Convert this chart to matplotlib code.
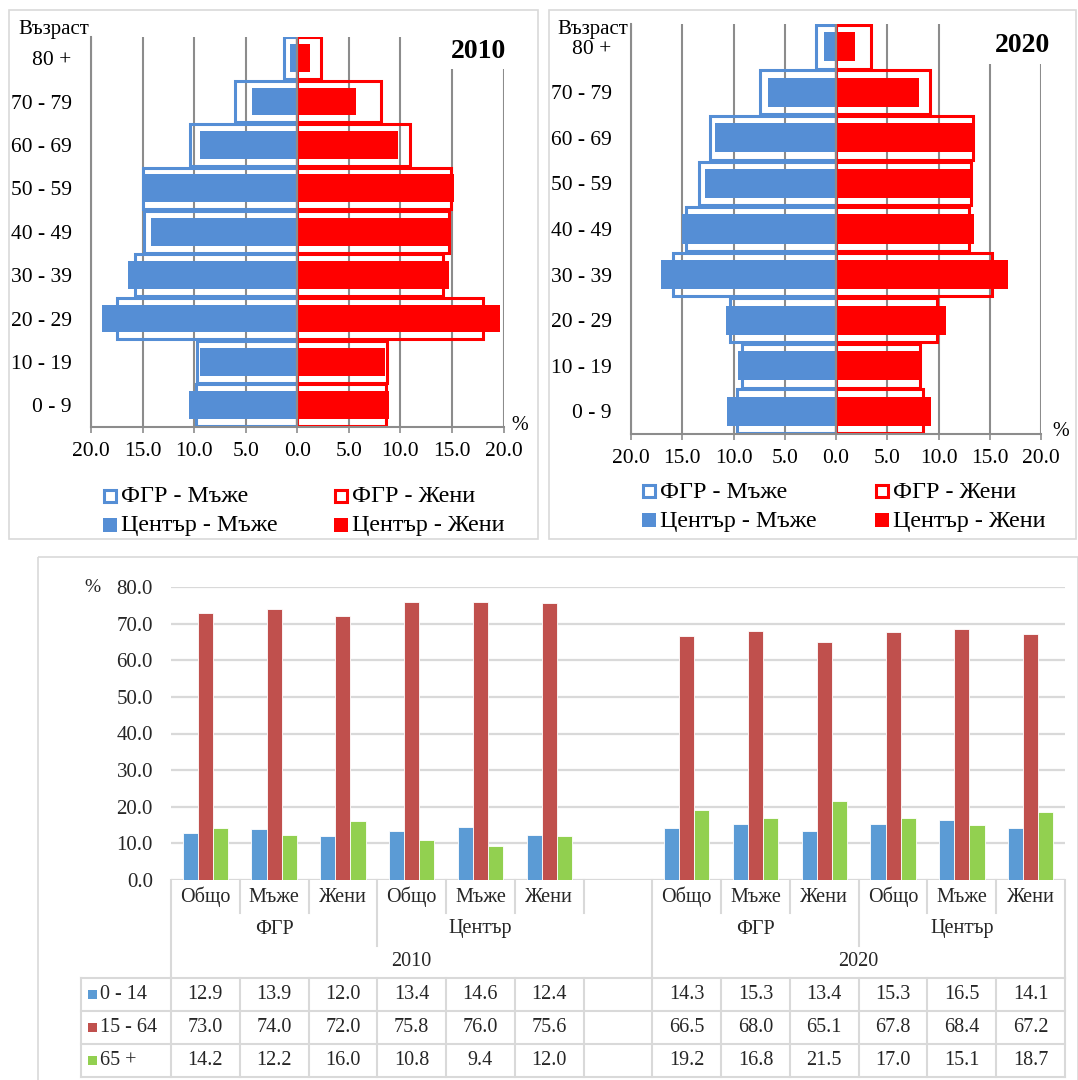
import numpy as np
import matplotlib
matplotlib.use('Agg')
import matplotlib.pyplot as plt
from matplotlib.patches import Rectangle

plt.rcParams['font.family'] = ['Liberation Serif', 'DejaVu Serif']

# ---------------- data ----------------
age_groups = ['0 - 9', '10 - 19', '20 - 29', '30 - 39', '40 - 49',
              '50 - 59', '60 - 69', '70 - 79', '80 +']
frg_men_2010 = [9.8, 9.7, 17.5, 15.7, 14.9, 15.0, 10.4, 6.0, 1.3]
frg_women_2010 = [8.6, 8.7, 18.0, 14.1, 14.7, 14.9, 10.9, 8.1, 2.3]
cen_men_2010 = [10.5, 9.4, 18.9, 16.4, 14.2, 14.8, 9.4, 4.4, 0.7]
cen_women_2010 = [8.9, 8.5, 19.7, 14.7, 14.8, 15.2, 9.8, 5.7, 1.2]
frg_men_2020 = [9.7, 9.2, 10.3, 15.9, 14.6, 13.4, 12.3, 7.4, 2.0]
frg_women_2020 = [8.5, 8.2, 9.9, 15.2, 13.0, 13.2, 13.4, 9.2, 3.4]
cen_men_2020 = [10.6, 9.6, 10.7, 17.1, 15.0, 12.8, 11.8, 6.6, 1.2]
cen_women_2020 = [9.3, 8.4, 10.7, 16.8, 13.5, 13.3, 13.3, 8.1, 1.9]
pyr_xticks = [-20, -15, -10, -5, 0, 5, 10, 15, 20]
pyr_legend = ['ФГР - Мъже', 'ФГР - Жени', 'Център - Мъже', 'Център - Жени']
age_title = 'Възраст'

sex_labels = ['Общо', 'Мъже', 'Жени']
region_labels = ['ФГР', 'Център']
year_labels = ['2010', '2020']
broad_groups = ['0 - 14', '15 - 64', '65 +']
share_0_14_2010 = [12.9, 13.9, 12.0, 13.4, 14.6, 12.4]
share_15_64_2010 = [73.0, 74.0, 72.0, 75.8, 76.0, 75.6]
share_65_2010 = [14.2, 12.2, 16.0, 10.8, 9.4, 12.0]
share_0_14_2020 = [14.3, 15.3, 13.4, 15.3, 16.5, 14.1]
share_15_64_2020 = [66.5, 68.0, 65.1, 67.8, 68.4, 67.2]
share_65_2020 = [19.2, 16.8, 21.5, 17.0, 15.1, 18.7]
bar_yticks = [0, 10, 20, 30, 40, 50, 60, 70, 80]

# ---------------- styles ----------------
W, H = 1078, 1080
P_BLUE, P_RED = '#558ED5', '#FF0000'
GRID_DARK = '#8C8C8C'
B_COLORS = ['#5B9BD5', '#C0504D', '#92D050']
LIGHT = '#D9D9D9'
TXT = '#262626'

fig = plt.figure(figsize=(W / 100, H / 100), dpi=100)


def add_ax(x0, y0, x1, y1):
    return fig.add_axes([x0 / W, 1 - y1 / H, (x1 - x0) / W, (y1 - y0) / H])


def draw_pyramid(box, frg_m, frg_f, cen_m, cen_f, cover_px):
    x0, y0, x1, y1 = box
    ax = add_ax(x0, y0, x1, y1)
    y = np.arange(len(age_groups))
    ax.barh(y, [-v for v in frg_m], height=0.96, fill=False,
            edgecolor=P_BLUE, linewidth=2.2, zorder=2)
    ax.barh(y, frg_f, height=0.96, fill=False,
            edgecolor=P_RED, linewidth=2.2, zorder=2)
    ax.barh(y, [-v for v in cen_m], height=0.64, color=P_BLUE, zorder=3)
    ax.barh(y, cen_f, height=0.64, color=P_RED, zorder=3)
    ax.axvline(0, color=GRID_DARK, linewidth=1.6, zorder=4)
    ax.set_xlim(-20, 20)
    ax.set_ylim(-0.5, len(age_groups) - 0.5)
    ax.set_xticks(pyr_xticks)
    ax.set_xticklabels([f'{abs(v):.1f}' for v in pyr_xticks], fontsize=15.5)
    ax.set_yticks(y)
    ax.set_yticklabels(age_groups, fontsize=15.5)
    ax.tick_params(axis='y', length=0, pad=14)
    ax.tick_params(axis='x', length=4, width=1.2, color=GRID_DARK, pad=7)
    ax.grid(axis='x', color=GRID_DARK, linewidth=1.5)
    ax.set_axisbelow(True)
    for s in ['top', 'right']:
        ax.spines[s].set_visible(False)
    for s in ['left', 'bottom']:
        ax.spines[s].set_color(GRID_DARK)
        ax.spines[s].set_linewidth(1.5)
    # white box behind the year title that hides the top of gridlines
    spacing = (y1 - y0) / len(age_groups)
    ytop = len(age_groups) - 0.5
    ybot = ytop - (cover_px - y0) / spacing
    ax.add_patch(Rectangle((12.5, ybot), 9, ytop - ybot + 0.5, facecolor='white',
                           edgecolor='none', zorder=1, clip_on=False))
    return ax


draw_pyramid((91, 36.5, 503.5, 427), frg_men_2010, frg_women_2010,
             cen_men_2010, cen_women_2010, 69)
draw_pyramid((631, 24, 1041, 434), frg_men_2020, frg_women_2020,
             cen_men_2020, cen_women_2020, 64)

# ---------------- bottom bar chart ----------------
SX0, SX1 = 171, 1065
n_slots = 2 * len(share_0_14_2010) + 1
slot_w = (SX1 - SX0) / n_slots
bx = add_ax(SX0, 587, SX1, 880)
idx_2010 = list(range(len(share_0_14_2010)))
idx_2020 = [len(share_0_14_2010) + 1 + i for i in range(len(share_0_14_2020))]
xs = np.array(idx_2010 + idx_2020)
series = [share_0_14_2010 + share_0_14_2020,
          share_15_64_2010 + share_15_64_2020,
          share_65_2010 + share_65_2020]
bw = 0.22
for j, vals in enumerate(series):
    bx.bar(xs + (j - 1) * bw, vals, width=bw, color=B_COLORS[j],
           edgecolor='white', linewidth=0.6, zorder=3)
bx.set_xlim(-0.5, n_slots - 0.5)
bx.set_ylim(0, 80)
bx.set_yticks(bar_yticks)
bx.set_yticklabels([f'{v:.1f}' for v in bar_yticks], fontsize=15, color=TXT)
bx.tick_params(axis='y', length=0, pad=13)
bx.set_xticks([])
bx.grid(axis='y', color=LIGHT, linewidth=1.6)
bx.set_axisbelow(True)
for s in bx.spines.values():
    s.set_visible(False)

# ---------------- overlay (frames, legends, labels, table) ----------------
ov = fig.add_axes([0, 0, 1, 1], zorder=10)
ov.set_xlim(0, W)
ov.set_ylim(H, 0)
ov.axis('off')

for (x0, y0, x1, y1) in [(8.5, 9.5, 537.5, 538.5), (548.5, 9.5, 1075.5, 538.5),
                         (37.5, 556.5, 1077.5, 1085)]:
    ov.add_patch(Rectangle((x0, y0), x1 - x0, y1 - y0, fill=False,
                           edgecolor=LIGHT, linewidth=1.2, clip_on=False))

# pyramid titles and labels
ov.text(479, 51, year_labels[0], fontsize=20, fontweight='bold', ha='center', va='center')
ov.text(1023, 45, year_labels[1], fontsize=20, fontweight='bold', ha='center', va='center')
ov.text(54, 34, age_title, fontsize=15, ha='center', va='baseline')
ov.text(593, 34, age_title, fontsize=15, ha='center', va='baseline')
ov.text(520, 430, '%', fontsize=14.5, ha='center', va='baseline')
ov.text(1061, 436, '%', fontsize=14.5, ha='center', va='baseline')

# pyramid legends
def pyr_legend_draw(mx_cols, rows, tx_off):
    styles = [(P_BLUE, True), (P_RED, True), (P_BLUE, False), (P_RED, False)]
    for k, lab in enumerate(pyr_legend):
        r, c = divmod(k, 2)
        col, hollow = styles[k]
        mx, my = mx_cols[c], rows[r]
        if hollow:
            ov.add_patch(Rectangle((mx + 1, my - 6), 12, 12, facecolor='white',
                                   edgecolor=col, linewidth=2.2))
        else:
            ov.add_patch(Rectangle((mx, my - 7), 14, 14, facecolor=col, edgecolor='none'))
        ov.text(mx + tx_off, my + 1, lab, fontsize=17.3, ha='left', va='center')

pyr_legend_draw([103, 334], [496, 525], 18)
pyr_legend_draw([642, 875], [491, 520], 18)

# bottom chart % label
ov.text(92, 587, '%', fontsize=14, ha='center', va='center', color=TXT)

# multi-level category axis
def sx(k):
    return SX0 + k * slot_w

row_lines = [880, 913, 946, 978]
for k in range(n_slots + 1):
    if k in (0, len(idx_2010) + 1, n_slots):
        lvl = 3
    elif k in (3, len(idx_2010) + 1 + 3):
        lvl = 2
    else:
        lvl = 1
    ov.plot([sx(k), sx(k)], [880, row_lines[lvl]], color=LIGHT, linewidth=1.5)

for i in idx_2010:
    ov.text(sx(i + 0.5), 897, sex_labels[i % 3], fontsize=14.5, ha='center', va='center', color=TXT)
for i in idx_2020:
    ov.text(sx(i + 0.5), 897, sex_labels[(i - idx_2020[0]) % 3], fontsize=14.5,
            ha='center', va='center', color=TXT)
for g, start in enumerate([0, 3]):
    ov.text(sx(start + 1.5), 929, region_labels[g], fontsize=14.5, ha='center', va='center', color=TXT)
    ov.text(sx(idx_2020[0] + start + 1.5), 929, region_labels[g], fontsize=14.5,
            ha='center', va='center', color=TXT)
ov.text(sx((len(idx_2010) + 1) / 2), 962, year_labels[0], fontsize=14.5,
        ha='center', va='center', color=TXT)
ov.text(sx(idx_2020[0] + len(idx_2020) / 2), 962, year_labels[1], fontsize=14.5,
        ha='center', va='center', color=TXT)

# data table
TX0 = 81
t_rows = [978, 1011, 1044, 1077]
for yy in t_rows:
    ov.plot([TX0, SX1], [yy, yy], color=LIGHT, linewidth=1.5)
for xx in [TX0] + [sx(k) for k in range(n_slots + 1)]:
    ov.plot([xx, xx], [t_rows[0], t_rows[-1]], color=LIGHT, linewidth=1.5)
for r, (lab, vals) in enumerate(zip(broad_groups, series)):
    yc = (t_rows[r] + t_rows[r + 1]) / 2
    ov.add_patch(Rectangle((88, yc - 4.5), 9, 9, facecolor=B_COLORS[r], edgecolor='none'))
    ov.text(100, yc, lab, fontsize=14.5, ha='left', va='center', color=TXT)
    for xi, v in zip(xs, vals):
        ov.text(sx(xi + 0.5), yc, f'{v:.1f}', fontsize=14.5, ha='center', va='center', color=TXT)

fig.savefig('out.png', dpi=100, facecolor='white')
